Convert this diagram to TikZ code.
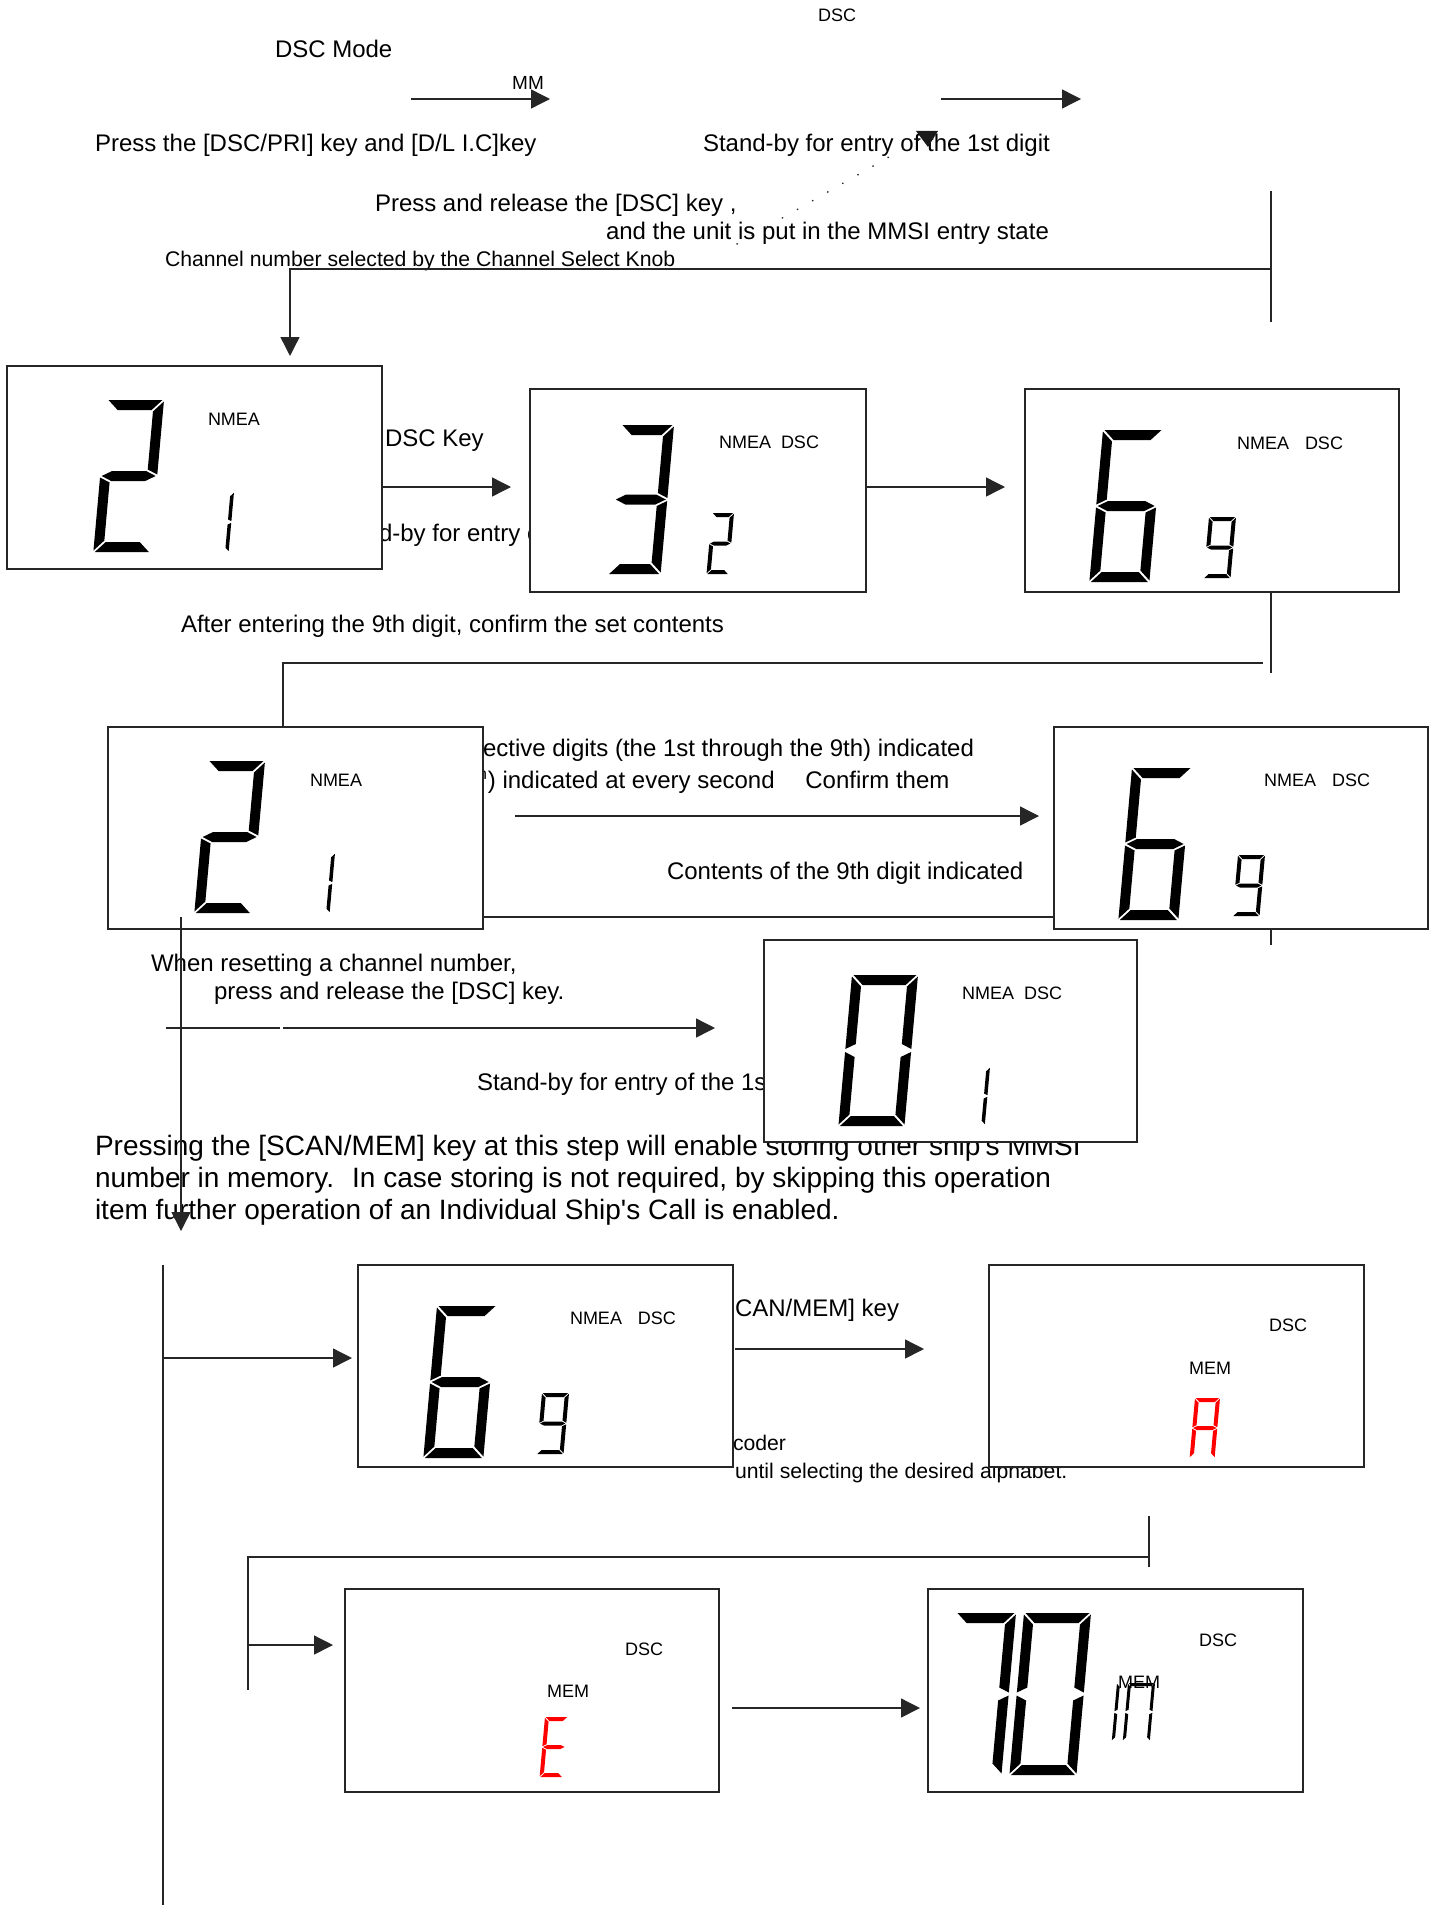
\documentclass[tikz,border=0pt]{standalone}
\usepackage{fontspec}
\setmainfont{Liberation Sans}
\usetikzlibrary{arrows.meta}
% seven-segment pieces (local units = px, y downwards)
\def\segXa{\fill ({\dG},0) -- ({\dW-\dG},0) -- ({\dW-\dT-\dG},{\dT}) -- ({\dT+\dG},{\dT}) -- cycle;}
\def\segXb{\fill ({\dW},{\dG}) -- ({\dW},{\dH/2-\dG}) -- ({\dW-\dT},{\dH/2-\dT/2-\dG}) -- ({\dW-\dT},{\dT+\dG}) -- cycle;}
\def\segXc{\fill ({\dW},{\dH/2+\dG}) -- ({\dW},{\dH-\dG}) -- ({\dW-\dT},{\dH-\dT-\dG}) -- ({\dW-\dT},{\dH/2+\dT/2+\dG}) -- cycle;}
\def\segXd{\fill ({\dG},{\dH}) -- ({\dT+\dG},{\dH-\dT}) -- ({\dW-\dT-\dG},{\dH-\dT}) -- ({\dW-\dG},{\dH}) -- cycle;}
\def\segXe{\fill (0,{\dH/2+\dG}) -- ({\dT},{\dH/2+\dT/2+\dG}) -- ({\dT},{\dH-\dT-\dG}) -- (0,{\dH-\dG}) -- cycle;}
\def\segXf{\fill (0,{\dG}) -- ({\dT},{\dT+\dG}) -- ({\dT},{\dH/2-\dT/2-\dG}) -- (0,{\dH/2-\dG}) -- cycle;}
\def\segXg{\fill ({\dG},{\dH/2}) -- ({\dT+\dG},{\dH/2-\dT/2}) -- ({\dW-\dT-\dG},{\dH/2-\dT/2}) -- ({\dW-\dG},{\dH/2}) -- ({\dW-\dT-\dG},{\dH/2+\dT/2}) -- ({\dT+\dG},{\dH/2+\dT/2}) -- cycle;}
% #1 x, #2 y (top-left), #3 W, #4 H, #5 thickness, #6 gap, #7 segments, #8 colour
\newcommand\lcdchar[8]{\begin{scope}[shift={(#1,#2)},xslant=0.09,fill=#8]
  \def\dW{#3}\def\dH{#4}\def\dT{#5}\def\dG{#6}%
  \foreach \s in {#7}{\csname segX\s\endcsname}
\end{scope}}
\begin{document}
\begin{tikzpicture}[x=0.5pt,y=-0.5pt,
  tA/.style={inner sep=0pt,outer sep=0pt,anchor=base west,yshift=-4.6pt,font=\fontsize{12}{14}\selectfont},
  tB/.style={inner sep=0pt,outer sep=0pt,anchor=base west,yshift=-3.5pt,font=\fontsize{9}{11}\selectfont},
  tC/.style={inner sep=0pt,outer sep=0pt,anchor=base west,yshift=-4.1pt,font=\fontsize{10.6}{12}\selectfont},
  tD/.style={inner sep=0pt,outer sep=0pt,anchor=base west,yshift=-5.3pt,font=\fontsize{14}{16}\selectfont},
  lcdbox/.style={draw=black!85,line width=0.75pt,fill=white,inner sep=0pt,outer sep=0pt,anchor=north west},
  conn/.style={line width=0.7pt,draw=black!85},
  arr/.style={conn,-{Triangle[length=9.5pt,width=9.5pt]}},
]
\useasboundingbox (0,0) rectangle (1437,1905);

% ---------- free texts (some partly covered by the displays) ----------
\node[tB,anchor=base] (tdsctop) at (837,15) {DSC};
\node[tA] (tmode) at (275,48) {DSC Mode};
\node[tB,anchor=base,font=\fontsize{9.5}{11}\selectfont] (tmm) at (528,83) {MM};
\node[tA] (tpress) at (95,142) {Press the [DSC/PRI] key and [D/L I.C]key};
\node[tA] (tstand) at (703,142) {Stand-by for entry of the 1st digit};
\node[tA] (trel1) at (375,202) {Press and release the [DSC] key ,};
\node[tA] (trel2) at (606,230) {and the unit is put in the MMSI entry state};
\node[tC] (tchan) at (165,258) {Channel number selected by the Channel Select Knob};
\node[tA] (tkey) at (385,437) {DSC Key};
\node[tA] (tsb2) at (379,532) {d-by for entry o};
\node[tA] (tafter) at (181,623) {After entering the 9th digit, confirm the set contents};
\node[tA] (tresp1) at (483,747) {ective digits (the 1st through the 9th) indicated};
\node[tA] (tresp2) at (478,779) {\textsuperscript{h}) indicated at every second\hspace{1em} Confirm them};
\node[tA] (tcont) at (667,870) {Contents of the 9th digit indicated};
\node[tA] (twhen1) at (151,962) {When resetting a channel number,};
\node[tA] (twhen2) at (214,990) {press and release the [DSC] key.};
\node[tA] (tsb6) at (477,1081) {Stand-by for entry of the 1s};
\node[tD] (tp1) at (95,1145) {Pressing the [SCAN/MEM] key at this step will enable storing other ship\textquotesingle s MMSI};
\node[tD] (tp2) at (95,1177) {number in memory.~ In case storing is not required, by skipping this operation};
\node[tD] (tp3) at (95,1209) {item further operation of an Individual Ship\textquotesingle s Call is enabled.};
\node[tA] (tscan) at (735,1307) {CAN/MEM] key};
\node[tC] (tcoder) at (733,1442) {coder};
\node[tC] (tuntil) at (735,1470) {until selecting the desired alphabet.};

% ---------- displays ----------
\node[lcdbox,minimum width=187.5pt,minimum height=101.5pt] (b1) at (7,366) {};
\node[lcdbox,minimum width=168pt,minimum height=101.5pt] (b2) at (530,389) {};
\node[lcdbox,minimum width=187pt,minimum height=101.5pt] (b3) at (1025,389) {};
\node[lcdbox,minimum width=187.5pt,minimum height=101pt] (b4) at (108,727) {};
\node[lcdbox,minimum width=187pt,minimum height=101pt] (b5) at (1054,727) {};
\node[lcdbox,minimum width=186.5pt,minimum height=101pt] (b6) at (764,940) {};
\node[lcdbox,minimum width=187.5pt,minimum height=101pt] (b7) at (358,1265) {};
\node[lcdbox,minimum width=187.5pt,minimum height=101pt] (b8) at (989,1265) {};
\node[lcdbox,minimum width=187pt,minimum height=101.5pt] (b9) at (345,1589) {};
\node[lcdbox,minimum width=187.5pt,minimum height=101.5pt] (b10) at (928,1589) {};

% display 1 : 2 1
\lcdchar{107}{400}{57}{152}{10}{1.5}{a,b,g,e,d}{black}
\lcdchar{214}{492}{20}{60}{3.5}{0.8}{b,c}{black}
\node[tB] (n1) at (208,418) {NMEA};
% display 2 : 3 2
\lcdchar{621}{425}{53}{149}{10}{1.5}{a,b,g,c,d}{black}
\lcdchar{712}{513}{22}{61}{4}{0.8}{a,b,g,e,d}{black}
\node[tB] (n2) at (719,441) {NMEA\hspace{5pt}DSC};
% display 3 : 6 9
\lcdchar{1103}{430}{60}{152}{10}{1.5}{a,f,g,e,c,d}{black}
\lcdchar{1209}{517}{27}{61}{4}{0.8}{a,b,c,d,f,g}{black}
\node[tB] (n3) at (1237,442) {NMEA\hspace{8pt}DSC};
% display 4 : 2 1
\lcdchar{208}{761}{57}{152}{10}{1.5}{a,b,g,e,d}{black}
\lcdchar{315}{853}{20}{60}{3.5}{0.8}{b,c}{black}
\node[tB] (n4) at (310,779) {NMEA};
% display 5 : 6 9
\lcdchar{1132}{768}{60}{152}{10}{1.5}{a,f,g,e,c,d}{black}
\lcdchar{1238}{855}{27}{61}{4}{0.8}{a,b,c,d,f,g}{black}
\node[tB] (n5) at (1264,779) {NMEA\hspace{8pt}DSC};
% display 6 : 0 1
\lcdchar{852}{975}{66}{151}{10}{1.5}{a,b,c,d,e,f}{black}
\lcdchar{970}{1067}{20}{58}{3.5}{0.8}{b,c}{black}
\node[tB] (n6) at (962,992) {NMEA\hspace{5pt}DSC};
% display 7 : 6 9
\lcdchar{437}{1306}{60}{152}{10}{1.5}{a,f,g,e,c,d}{black}
\lcdchar{542}{1393}{27}{61}{4}{0.8}{a,b,c,d,f,g}{black}
\node[tB] (n7) at (570,1317) {NMEA\hspace{8pt}DSC};
% display 8 : A
\node[tB] (n8a) at (1269,1324) {DSC};
\node[tB] (n8b) at (1189,1367) {MEM};
\lcdchar{1195}{1398}{25}{60}{4}{0.8}{a,b,c,e,f,g}{red}
% display 9 : E
\node[tB] (n9a) at (625,1648) {DSC};
\node[tB] (n9b) at (547,1690) {MEM};
\lcdchar{545}{1717}{23}{60}{4}{0.8}{a,d,e,f,g}{red}
% display 10 : 70 m
\lcdchar{956}{1613}{60}{162}{10}{1.5}{a,b,c}{black}
\lcdchar{1024}{1613}{67}{162}{10}{1.5}{a,b,c,d,e,f}{black}
\lcdchar{1117}{1683}{10}{58}{3}{0.8}{e,f}{black}
\lcdchar{1128}{1683}{27}{58}{3}{0.8}{a,b,c,e,f}{black}
\node[tB] (n10a) at (1199,1639) {DSC};
\node[tB] (n10b) at (1118,1681) {MEM};

% ---------- connectors ----------
\coordinate (m1a) at (411,99); \coordinate (m1b) at (550,99);
\draw[arr] (m1a) -- (m1b);
\coordinate (m2a) at (941,99); \coordinate (m2b) at (1081,99);
\draw[arr] (m2a) -- (m2b);
\coordinate (dt1) at (737,244); \coordinate (dt2) at (922,138);
\draw[conn,line width=0.8pt,line cap=round,dash pattern=on 0.2pt off 8.5pt] (dt1) -- (dt2);
\fill[black!90] (dt2) ++(-6,-7) -- ++(22,0) -- ++(-10,16) -- cycle;

\coordinate (v1t) at (1271,191); \coordinate (v1b) at (1271,322);
\draw[conn] (v1t) -- (v1b);
\coordinate (h1r) at (1271,269); \coordinate (h1l) at (290,269); \coordinate (h1d) at (290,356);
\draw[arr] (h1r) -- (h1l) -- (h1d);

\coordinate (k1a) at (383,487); \coordinate (k1b) at (511,487);
\draw[arr] (k1a) -- (k1b);
\coordinate (k2a) at (866,487); \coordinate (k2b) at (1005,487);
\draw[arr] (k2a) -- (k2b);

\coordinate (v2t) at (1271,592); \coordinate (v2b) at (1271,673);
\draw[conn] (v2t) -- (v2b);
\coordinate (h2r) at (1263,663); \coordinate (h2l) at (283,663); \coordinate (h2d) at (283,727);
\draw[conn] (h2r) -- (h2l) -- (h2d);

\coordinate (k3a) at (515,816); \coordinate (k3b) at (1039,816);
\draw[arr] (k3a) -- (k3b);
\coordinate (l45a) at (483,917); \coordinate (l45b) at (1054,917);
\draw[conn] (l45a) -- (l45b);
\coordinate (v5t) at (1271,929); \coordinate (v5b) at (1271,945);
\draw[conn] (v5t) -- (v5b);

\coordinate (v4t) at (181,917); \coordinate (v4b) at (181,1231);
\draw[arr] (v4t) -- (v4b);
\coordinate (tk1) at (181,1027); \coordinate (tk2) at (181,1077);
\draw[conn,line width=1.3pt] (tk1) -- (tk2);
\coordinate (r1a) at (166,1028); \coordinate (r1b) at (280,1028);
\draw[conn] (r1a) -- (r1b);
\coordinate (r2a) at (283,1028); \coordinate (r2b) at (715,1028);
\draw[arr] (r2a) -- (r2b);

\coordinate (vlt) at (163,1265); \coordinate (vlb) at (163,1905);
\draw[conn] (vlt) -- (vlb);
\coordinate (k4a) at (163,1358); \coordinate (k4b) at (352,1358);
\draw[arr] (k4a) -- (k4b);
\coordinate (k5a) at (735,1349); \coordinate (k5b) at (924,1349);
\draw[arr] (k5a) -- (k5b);

\coordinate (v8t) at (1149,1516); \coordinate (v8b) at (1149,1567);
\draw[conn] (v8t) -- (v8b);
\coordinate (h8r) at (1149,1557); \coordinate (h8l) at (248,1557); \coordinate (h8d) at (248,1690);
\draw[conn] (h8r) -- (h8l) -- (h8d);
\coordinate (k6a) at (248,1645); \coordinate (k6b) at (333,1645);
\draw[arr] (k6a) -- (k6b);
\coordinate (k7a) at (732,1708); \coordinate (k7b) at (920,1708);
\draw[arr] (k7a) -- (k7b);
\end{tikzpicture}
\end{document}
